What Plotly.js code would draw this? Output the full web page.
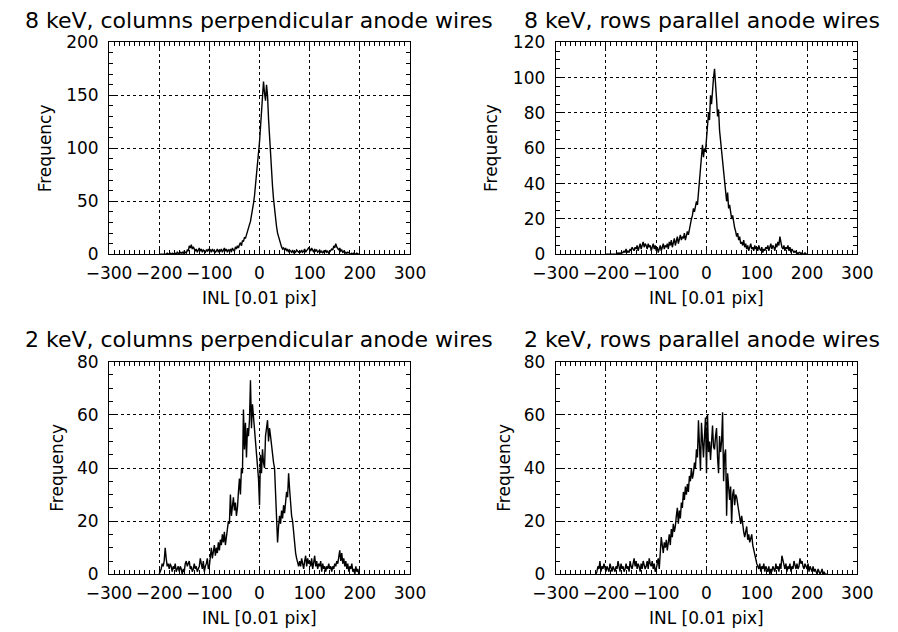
<!DOCTYPE html>
<html>
<head>
<meta charset="utf-8">
<script src="https://cdn.plot.ly/plotly-3.0.1.min.js"></script>
<style>html,body{margin:0;padding:0;background:#fff;}#chart{width:898px;height:632px;}</style>
</head>
<body>
<div id="chart"></div>
<script>
// Panel titles
const panelTitles = [
  "8 keV, columns perpendicular anode wires",
  "8 keV, rows parallel anode wires",
  "2 keV, columns perpendicular anode wires",
  "2 keV, rows parallel anode wires"
];
const xAxisLabel = "INL [0.01 pix]";
const yAxisLabel = "Frequency";
const xTickVals = [-300, -200, -100, 0, 100, 200, 300];

// Histogram bins: width 2 (units of 0.01 pix)
const binWidth = 2;

// 8 keV, columns perpendicular (bins start at -200)
const start8Col = -200;
const freq8Col = [
  0,0,0,0,0,0,0,0,1,0,
  0,1,0,1,0,1,1,0,2,1,
  1,2,1,2,1,3,2,1,4,3,
  8,6,9,5,7,4,3,5,2,4,
  6,3,5,2,4,3,2,4,3,5,
  3,4,2,5,3,4,2,3,5,2,
  4,3,5,2,4,6,3,5,2,4,
  3,5,2,6,4,3,7,5,8,6,
  9,11,8,13,12,16,15,19,22,26,
  28,31,36,42,48,55,64,75,85,96,
  106,120,138,150,163,152,145,160,150,128,
  110,92,78,64,52,42,34,26,20,16,
  12,9,7,5,6,4,6,3,5,2,
  4,3,2,4,1,3,2,4,3,2,
  3,2,4,2,3,5,2,3,4,6,
  5,3,6,4,2,5,3,4,2,3,
  4,2,3,1,3,2,4,2,3,1,
  2,3,5,4,8,6,10,7,5,4,
  6,3,4,2,3,1,2,1,2,1,
  1,0,1,0,1,0,0,1,0,0,
  0
];

// 8 keV, rows parallel (bins start at -200)
const start8Row = -200;
const freq8Row = [
  0,0,0,0,0,0,0,0,0,0,
  0,0,1,0,1,0,1,1,2,1,
  3,1,2,1,3,2,4,3,2,4,
  3,5,2,4,6,3,5,7,4,6,
  5,3,6,4,5,2,4,6,3,5,
  2,4,1,3,5,2,4,6,3,5,
  4,6,3,7,5,8,4,6,9,5,
  7,10,6,8,11,8,10,9,12,8,
  10,13,11,15,17,20,22,26,24,28,
  30,28,36,40,50,56,62,55,60,58,
  64,70,80,76,90,85,96,100,105,92,
  88,78,82,70,64,58,56,48,42,36,
  30,35,26,28,22,20,22,17,15,13,
  10,12,8,10,6,7,5,8,4,6,
  3,5,2,4,6,3,4,2,5,3,
  4,2,5,3,2,4,1,3,2,4,
  3,5,2,4,6,3,5,4,2,6,
  4,7,5,10,6,4,3,5,2,4,
  3,5,2,4,1,3,2,1,2,1,
  1,0,1,1,0,1,0,0,1,0,
  0
];

// 2 keV, columns perpendicular (bins start at -200)
const start2Col = -200;
const freq2Col = [
  0,1,2,4,3,5,10,6,3,4,
  2,4,3,1,3,2,4,1,2,3,
  1,3,2,0,2,1,4,5,3,4,
  5,2,3,1,2,4,2,3,1,2,
  3,6,4,2,5,1,3,4,6,2,
  3,7,10,6,9,11,7,10,8,12,
  9,13,11,15,12,16,11,14,17,20,
  19,30,22,26,29,24,27,22,25,31,
  36,30,40,38,62,47,57,44,55,52,
  58,73,55,64,59,56,52,45,40,36,
  26,45,38,47,42,40,52,56,58,50,
  55,52,48,45,42,40,30,26,12,18,
  22,19,24,21,26,23,28,31,29,38,
  32,26,22,20,15,10,8,6,4,3,
  5,3,6,4,2,5,7,3,6,4,
  5,3,6,2,4,7,3,5,2,4,
  3,5,1,4,2,3,1,3,2,4,
  2,3,1,3,2,4,3,5,4,6,
  9,5,8,4,6,3,5,2,4,1,
  3,2,4,1,2,0,3,1,2,0,
  0
];

// 2 keV, rows parallel (bins start at -220)
const start2Row = -220;
const freq2Row = [
  0,1,3,2,5,1,3,2,4,2,
  1,3,2,1,4,2,1,3,2,1,
  3,2,5,3,1,4,2,3,1,2,
  4,2,3,1,5,3,2,4,6,3,
  5,2,4,3,1,4,2,5,3,2,
  3,5,2,6,4,3,5,2,4,1,
  2,4,6,2,9,14,11,8,12,10,
  13,9,12,15,11,17,14,19,16,18,
  22,25,19,24,21,27,25,31,28,33,
  30,34,31,37,35,40,36,38,42,40,
  47,44,58,50,39,57,48,44,52,59,
  38,60,46,50,43,51,56,48,47,52,
  55,44,38,52,46,50,61,35,45,47,
  22,38,34,28,33,19,30,32,26,30,
  29,26,24,21,19,22,18,16,14,17,
  18,13,15,12,14,15,11,9,7,5,
  4,3,2,4,1,3,2,4,1,3,
  2,1,3,0,2,1,3,2,1,4,
  2,3,1,4,2,7,5,3,2,4,
  1,3,2,4,1,3,2,5,3,2,
  4,2,3,6,4,5,3,2,4,3,
  2,4,1,3,2,1,3,1,2,1,
  0,2,1,0,1,2,0,1,0,0,
  0
];

const yRanges = [[0, 200], [0, 120], [0, 80], [0, 80]];
const yMajor = [50, 20, 20, 20];
const yMinor = [10, 5, 5, 5];

function binCenters(start, vals) { return vals.map((_, i) => start + i * binWidth); }

const series = [
  {start: start8Col, y: freq8Col},
  {start: start8Row, y: freq8Row},
  {start: start2Col, y: freq2Col},
  {start: start2Row, y: freq2Row}
];

const W = 898, H = 632;
// plot boxes in pixels [left, right, top, bottom]
const boxes = [
  [109, 410, 42.3, 254.3],
  [555.7, 857.3, 42.3, 254.3],
  [109, 410, 361.7, 574.3],
  [555.7, 857.3, 361.7, 574.3]
];

const font = "DejaVu Sans, sans-serif";
const traces = [];
const layout = {
  width: W, height: H,
  margin: {l: 0, r: 0, t: 0, b: 0},
  paper_bgcolor: "#fff", plot_bgcolor: "#fff",
  showlegend: false,
  font: {family: font, color: "#000"},
  annotations: []
};

const titleX = [259.4, 702.3, 259.4, 702.3];
const titleY = [20.8, 20.8, 339.6, 339.6];
const yLabelOffset = [64, 64, 52.3, 52];

series.forEach((s, k) => {
  const n = k + 1;
  const xa = "x" + (n === 1 ? "" : n), ya = "y" + (n === 1 ? "" : n);
  traces.push({
    type: "scatter", mode: "lines",
    x: binCenters(s.start, s.y), y: s.y,
    xaxis: xa, yaxis: ya,
    line: {color: "#000", width: 1.4},
    hoverinfo: "skip"
  });
  const b = boxes[k];
  const common = {
    ticks: "inside", ticklen: 7, tickwidth: 1, tickcolor: "#000",
    showline: true, linecolor: "#000", linewidth: 1, mirror: "allticks",
    showgrid: true, gridcolor: "#000", gridwidth: 1, griddash: "dot",
    zeroline: false, fixedrange: true,
    tickfont: {family: font, size: 17, color: "#000"}
  };
  layout["xaxis" + (n === 1 ? "" : n)] = Object.assign({}, common, {
    domain: [b[0] / W, b[1] / W],
    anchor: ya,
    range: [-300, 300],
    tickmode: "array", tickvals: xTickVals,
    ticklabelstandoff: 3,
    minor: {dtick: 10, ticklen: 4, tickcolor: "#000", ticks: "inside", showgrid: false}
  });
  layout["yaxis" + (n === 1 ? "" : n)] = Object.assign({}, common, {
    domain: [1 - b[3] / H, 1 - b[2] / H],
    anchor: xa,
    range: yRanges[k],
    dtick: yMajor[k], tick0: 0,
    ticklabelstandoff: 6,
    minor: {dtick: yMinor[k], ticklen: 4, tickcolor: "#000", ticks: "inside", showgrid: false}
  });
  layout.annotations.push({
    text: panelTitles[k], xref: "paper", yref: "paper",
    x: titleX[k] / W, y: 1 - titleY[k] / H, xanchor: "center", yanchor: "middle",
    showarrow: false, font: {family: font, size: 22, color: "#000"}
  });
  layout.annotations.push({
    text: xAxisLabel, xref: "paper", yref: "paper",
    x: ((b[0] + b[1]) / 2) / W, y: 1 - (b[3] + 44) / H, xanchor: "center", yanchor: "middle",
    showarrow: false, font: {family: font, size: 17, color: "#000"}
  });
  layout.annotations.push({
    text: yAxisLabel, xref: "paper", yref: "paper", textangle: -90,
    x: (b[0] - yLabelOffset[k]) / W, y: 1 - ((b[2] + b[3]) / 2) / H, xanchor: "center", yanchor: "middle",
    showarrow: false, font: {family: font, size: 17, color: "#000"}
  });
});

Plotly.newPlot("chart", traces, layout, {staticPlot: true, displayModeBar: false});
</script>
</body>
</html>
